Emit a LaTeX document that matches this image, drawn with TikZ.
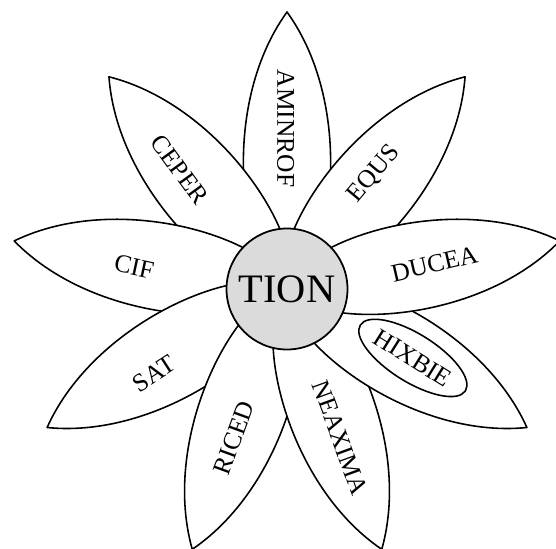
\documentclass[tikz,border=0pt]{standalone}
\usepackage{fontspec}
\setmainfont{Liberation Serif}
\usetikzlibrary{positioning}

\begin{document}
\begin{tikzpicture}[petal/.style={draw,fill=white,line width=0.9pt,line join=round},
  word/.style={font=\fontsize{14.5}{16}\selectfont,inner sep=1pt}]
\useasboundingbox (0,0) rectangle (11.12,10.96);
\coordinate (c) at (5.74,5.18);
% petals, in the order they overlap
\foreach \ang in {90,50,130,170,-150,-110,-70,-30,10}
  \draw[petal,shift={(c)},rotate=\ang] (0,0) .. controls (0.4,0.9) and (3.6,1.4) .. (5.54,0)
    .. controls (3.6,-1.4) and (0.4,-0.9) .. (0,0) -- cycle;
% words on the petals
\foreach \ang/\d/\txt/\rot in {90.5/3.21/AMINROF/-90, 52.9/2.88/EQUS/50, 9.6/2.99/DUCEA/13,
    -28.7/2.87/HIXBIE/-32, -70.3/3.16/NEAXIMA/-70, -109.6/3.16/RICED/70,
    -147.4/3.15/SAT/33, 171.7/3.09/CIF/-12, 132/3.21/CEPER/-54}
  \path (c) ++(\ang:\d) node[word,rotate=\rot] (w\txt) {\txt};
\draw[line width=0.9pt,rotate around={-32:(wHIXBIE)}] (wHIXBIE) ellipse [x radius=1.24, y radius=0.48];
% centre
\node[circle,draw,fill=gray!28,line width=1pt,minimum size=2.42cm,inner sep=0pt,
  font=\fontsize{23}{26}\selectfont] (tion) at (c) {TION};
\end{tikzpicture}
\end{document}
